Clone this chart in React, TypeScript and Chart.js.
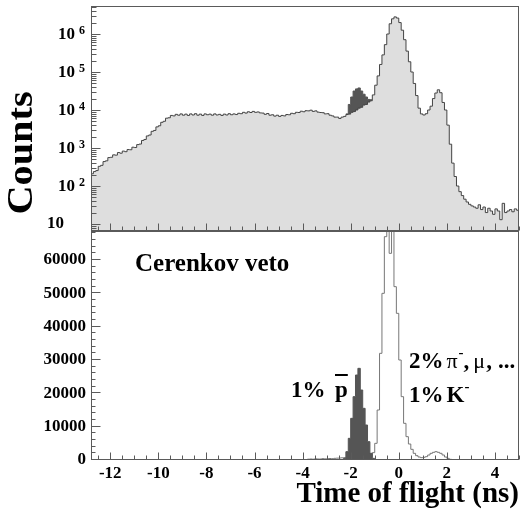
import React, { useEffect, useRef } from "react";
import { Chart, registerables } from "chart.js";

Chart.register(...registerables);

const SERIF = '"Liberation Serif", "Times New Roman", Times, serif';

// ---------------- data ----------------
const BIN_WIDTH = 0.1;
const X_MIN = -12.8;
const X_MAX = 5.0;

// all events, time of flight histogram (log panel), bins of 0.1 ns from -12.8 ns
const allStart = -12.8;
const allCounts = [
  210, 240, 255, 330, 350, 440, 460, 560, 570, 660,
  650, 760, 730, 830, 800, 910, 900, 1050, 1030, 1230,
  1270, 1580, 1680, 2080, 2200, 2750, 2900, 3600, 3850, 4750,
  5050, 6100, 6250, 7200, 7000, 7700, 7300, 7900, 7300, 7800,
  7200, 7900, 7400, 8000, 7300, 7800, 7200, 7900, 7500, 7800,
  7300, 7900, 7400, 7700, 7200, 7800, 7400, 8000, 7500, 7900,
  7600, 8200, 8000, 8700, 8300, 9000, 8600, 9200, 8700, 8900,
  8400, 8300, 7700, 8100, 7300, 7500, 6900, 7300, 6800, 7200,
  7000, 7600, 7500, 8200, 8000, 8700, 8600, 9300, 9000, 9600,
  9500, 9900, 9200, 9500, 8800, 8600, 8500, 7900, 8000, 7300,
  7000, 6500, 6500, 6000, 6500, 6800, 7600, 7800, 8700, 9100,
  10000, 11200, 11800, 13500, 14000, 16200, 17500, 25000, 45000, 79000,
  158000, 282000, 525000, 1000000, 1860000, 2510000, 2820000, 2630000, 2000000, 1260000,
  708000, 355000, 186000, 100000, 50000, 24000, 11200, 7900, 7400, 8000,
  10000, 12600, 20000, 28000, 34000, 28500, 15800, 10000, 4000, 1260,
  400, 178, 100, 71, 56, 45, 38, 33, 30, 28,
  26, 32, 24, 28, 20, 26, 22, 18, 25, 22,
  13, 35, 20, 22, 24, 21, 25, 23,
];

// antiproton component (dark, log panel)
const allPbarStart = -2.2;
const allPbarCounts = [7900, 14000, 22000, 31600, 36000, 38000, 31600, 26000, 22000, 19000, 18600];

// after Cerenkov veto (linear panel)
const vetoStart = -3.8;
const vetoCounts = [
  250, 300, 250, 350, 300, 300, 400, 350, 400, 450,
  400, 500, 550, 600, 650, 700, 800, 900, 900, 800,
  700, 600, 600, 600, 700, 800, 1000, 2200, 5000, 15000,
  32000, 50000, 67000, 95000, 62000, 88000, 52000, 44000, 30000, 19000,
  11000, 7000, 4800, 3200, 2000, 1300, 900, 700, 800, 1000,
  1500, 2000, 2300, 2500, 2300, 2000, 1500, 900, 500, 200,
  60,
];

const vetoPbarStart = -2.3;
const vetoPbarCounts = [500, 2500, 6500, 12500, 19000, 25500, 27500, 21000, 15500, 10500, 5500, 2000, 500];

const xMajorTicks = [-12, -10, -8, -6, -4, -2, 0, 2, 4];
const logDecades = [1, 2, 3, 4, 5, 6];
const linearTicks = [0, 10000, 20000, 30000, 40000, 50000, 60000];

// ---------------- helpers ----------------
function histPoints(start: number, counts: number[], close: boolean) {
  const pts: { x: number; y: number }[] = [];
  if (close) pts.push({ x: start, y: 0 });
  counts.forEach((c, i) => pts.push({ x: +(start + i * BIN_WIDTH).toFixed(4), y: c }));
  const end = +(start + counts.length * BIN_WIDTH).toFixed(4);
  pts.push({ x: end, y: counts[counts.length - 1] });
  if (close) pts.push({ x: end, y: 0 });
  return pts;
}

const FRAME = "#5a5a5a";

function seg(ctx: CanvasRenderingContext2D, x1: number, y1: number, x2: number, y2: number) {
  ctx.beginPath();
  ctx.moveTo(x1, y1);
  ctx.lineTo(x2, y2);
  ctx.stroke();
}

function frameAndXTicks(chart: any) {
  const { ctx, chartArea: a } = chart;
  const xs = chart.scales.x;
  const L = Math.round(a.left) + 0.5;
  const R = Math.round(a.right) - 0.5;
  const T = Math.round(a.top) + 0.5;
  const B = Math.round(a.bottom) - 0.5;
  ctx.save();
  ctx.strokeStyle = FRAME;
  ctx.lineWidth = 1;
  ctx.strokeRect(L, T, R - L, B - T);
  for (let v = Math.ceil(X_MIN * 2) / 2; v <= X_MAX + 1e-9; v += 0.5) {
    const px = Math.round(xs.getPixelForValue(v)) + 0.5;
    const major = xMajorTicks.some((m) => Math.abs(m - v) < 1e-9);
    seg(ctx, px, B, px, B - (major ? 7 : 4));
  }
  ctx.restore();
  return { L, R, T, B };
}

// draws consecutive text pieces; each piece: [text, font, dy, gapBefore]
function textRun(ctx: CanvasRenderingContext2D, x: number, y: number, parts: [string, string, number, number][]) {
  let cx = x;
  for (const [t, f, dy, gap] of parts) {
    cx += gap;
    ctx.font = f;
    ctx.fillText(t, cx, y + dy);
    cx += ctx.measureText(t).width;
  }
  return cx;
}

const topPlugin = {
  id: "topDecor",
  afterDatasetsDraw(chart: any) {
    const { ctx } = chart;
    const ys = chart.scales.y;
    const { L } = frameAndXTicks(chart);
    ctx.save();
    ctx.strokeStyle = FRAME;
    ctx.lineWidth = 1;
    for (let d = 0; d <= 7; d++) {
      for (let k = 1; k <= 9; k++) {
        const v = k * Math.pow(10, d);
        if (v < ys.min || v > ys.max) continue;
        const py = Math.round(ys.getPixelForValue(v)) + 0.5;
        seg(ctx, L, py, L + (k === 1 ? 9 : 5), py);
      }
    }
    ctx.restore();
  },
  afterDraw(chart: any) {
    const { ctx } = chart;
    const ys = chart.scales.y;
    ctx.save();
    ctx.fillStyle = "#000";
    for (const d of logDecades) {
      const py = ys.getPixelForValue(Math.pow(10, d));
      ctx.font = `bold 17px ${SERIF}`;
      ctx.textBaseline = "middle";
      ctx.textAlign = "right";
      if (d === 1) {
        ctx.fillText("10", 64, py);
      } else {
        ctx.fillText("10", 75, py + 1);
        ctx.font = `bold 12px ${SERIF}`;
        ctx.textAlign = "left";
        ctx.textBaseline = "alphabetic";
        ctx.fillText(String(d), 79, py);
      }
    }
    // y title
    ctx.translate(32, 153);
    ctx.rotate(-Math.PI / 2);
    ctx.scale(1.12, 1);
    ctx.font = `bold 36px ${SERIF}`;
    ctx.textAlign = "center";
    ctx.textBaseline = "alphabetic";
    ctx.fillText("Counts", 0, 0);
    ctx.restore();
  },
};

const bottomPlugin = {
  id: "bottomDecor",
  afterDatasetsDraw(chart: any) {
    const { ctx } = chart;
    const ys = chart.scales.y;
    const { L } = frameAndXTicks(chart);
    ctx.save();
    ctx.strokeStyle = FRAME;
    ctx.lineWidth = 1;
    for (let v = 0; v <= ys.max; v += 2000) {
      const py = Math.round(ys.getPixelForValue(v)) - 0.5;
      const major = linearTicks.includes(v);
      seg(ctx, L, py, L + (major ? 9 : 4), py);
    }
    ctx.restore();
  },
  afterDraw(chart: any) {
    const { ctx } = chart;
    ctx.save();
    ctx.fillStyle = "#000";
    ctx.textBaseline = "alphabetic";
    ctx.textAlign = "left";
    ctx.font = `bold 25px ${SERIF}`;
    ctx.fillText("Cerenkov veto", 135, 271);

    const B = `bold 23px ${SERIF}`;
    const G = `22px ${SERIF}`;
    const S = `bold 15px ${SERIF}`;

    // 1% p-bar
    ctx.font = B;
    ctx.fillText("1%", 291, 397);
    ctx.fillText("p", 335, 397);
    const pw = ctx.measureText("p").width;
    ctx.fillRect(335, 374, pw, 2);

    // 2% pi-, mu, ...
    textRun(ctx, 409, 368, [
      ["2%", B, 0, 0],
      ["\u03C0", G, 0, 3],
      ["-", S, -11, 1],
      [",", B, 0, 0],
      ["\u03BC", G, 0, 4],
      [",", B, 0, 1],
      ["...", B, 0, 6],
    ]);

    // 1% K-
    textRun(ctx, 409, 402, [
      ["1%", B, 0, 0],
      ["K", B, 0, 3],
      ["-", S, -11, 0],
    ]);
    ctx.restore();
  },
};

export default function App() {
  const topRef = useRef<HTMLCanvasElement | null>(null);
  const botRef = useRef<HTMLCanvasElement | null>(null);

  useEffect(() => {
    const top = new Chart(topRef.current as HTMLCanvasElement, {
      type: "line",
      data: {
        datasets: [
          {
            data: histPoints(allStart, allCounts, false),
            stepped: "before",
            borderColor: "#444",
            borderWidth: 1,
            backgroundColor: "rgb(222,222,222)",
            fill: "start",
            pointRadius: 0,
            order: 0,
          },
          {
            data: histPoints(allPbarStart, allPbarCounts, false),
            stepped: "before",
            borderColor: "#555",
            borderWidth: 1,
            backgroundColor: "#555",
            fill: "start",
            pointRadius: 0,
            order: 1,
          },
        ],
      },
      options: {
        animation: false,
        responsive: false,
        layout: { padding: { left: 91, right: 3, top: 6, bottom: 283 } },
        plugins: { legend: { display: false }, tooltip: { enabled: false } },
        scales: {
          x: { type: "linear", min: X_MIN, max: X_MAX, display: false },
          y: { type: "logarithmic", min: 6.55, max: 5.46e6, display: false },
        },
      },
      plugins: [topPlugin],
    } as any);

    const bottom = new Chart(botRef.current as HTMLCanvasElement, {
      type: "line",
      data: {
        datasets: [
          {
            data: histPoints(vetoPbarStart, vetoPbarCounts, true),
            stepped: "before",
            borderColor: "#555",
            borderWidth: 1,
            backgroundColor: "#555",
            fill: "start",
            pointRadius: 0,
            order: 0,
          },
          {
            data: histPoints(vetoStart, vetoCounts, true),
            stepped: "before",
            borderColor: "#777",
            borderWidth: 1,
            fill: false,
            pointRadius: 0,
            order: 1,
          },
        ],
      },
      options: {
        animation: false,
        responsive: false,
        layout: { padding: { left: 0, right: 3, top: 231, bottom: 2 } },
        plugins: { legend: { display: false }, tooltip: { enabled: false } },
        scales: {
          x: {
            type: "linear",
            min: X_MIN,
            max: X_MAX,
            grid: { display: false, drawTicks: false },
            border: { display: false },
            afterBuildTicks: (s: any) => {
              s.ticks = xMajorTicks.map((v) => ({ value: v }));
            },
            afterFit: (s: any) => {
              s.height = 52;
            },
            ticks: {
              color: "#000",
              padding: 3,
              maxRotation: 0,
              autoSkip: false,
              font: { family: SERIF, size: 17, weight: "bold" },
              callback: (v: any) => String(v),
            },
            title: {
              display: true,
              text: "Time of flight (ns)",
              align: "end",
              color: "#000",
              padding: { top: 0, bottom: 0 },
              font: { family: SERIF, size: 29, weight: "bold" },
            },
          },
          y: {
            type: "linear",
            min: 0,
            max: 68700,
            grid: { display: false, drawTicks: false },
            border: { display: false },
            afterBuildTicks: (s: any) => {
              s.ticks = linearTicks.map((v) => ({ value: v }));
            },
            afterFit: (s: any) => {
              s.width = 91;
            },
            ticks: {
              color: "#000",
              padding: 5,
              autoSkip: false,
              font: { family: SERIF, size: 17, weight: "bold" },
              callback: (v: any) => String(v),
            },
          },
        },
      },
      plugins: [bottomPlugin],
    } as any);

    return () => {
      top.destroy();
      bottom.destroy();
    };
  }, []);

  const cs: React.CSSProperties = { position: "absolute", left: 0, top: 0, display: "block" };
  return (
    <div style={{ position: "absolute", left: 0, top: 0, width: 522, height: 514, background: "#fff" }}>
      <canvas ref={botRef} width={522} height={514} style={cs} />
      <canvas ref={topRef} width={522} height={514} style={cs} />
    </div>
  );
}
